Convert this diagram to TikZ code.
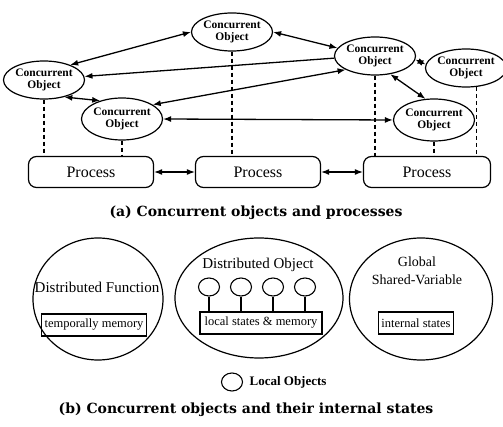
\documentclass[tikz,border=0pt]{standalone}
\usepackage{fontspec}
\setmainfont{Liberation Serif}
\newfontfamily\capfont{DejaVu Serif}
\usetikzlibrary{arrows.meta,positioning,shapes.geometric}
\tikzset{>={Latex[length=8pt,width=6pt]},
  cobj/.style={ellipse,draw,line width=1.2pt,inner sep=0pt,minimum width=66pt,minimum height=38pt,align=center,font=\bfseries\fontsize{11.5}{11.5}\selectfont},
  proc/.style={draw,line width=1.2pt,rounded corners=8pt,minimum width=125pt,minimum height=31pt,font=\fontsize{16}{17}\selectfont},
  arr/.style={<->,line width=1.3pt},
  oneway/.style={->,line width=1.3pt},
  vlink/.style={dash pattern=on 4pt off 3pt,line width=1.1pt},
  region/.style={ellipse,draw,line width=1.2pt,inner sep=0pt},
  membox/.style={draw,line width=1.1pt,inner sep=3pt,minimum height=22pt,font=\fontsize{12.5}{13}\selectfont},
  title/.style={align=center,font=\fontsize{15}{18}\selectfont},
  lobj/.style={ellipse,draw,line width=1.1pt,inner sep=0pt,minimum width=21pt,minimum height=18pt},
  caption/.style={font=\capfont\bfseries\fontsize{14}{16}\selectfont}}
\begin{document}
\begin{tikzpicture}[x=1pt,y=-1pt]
\useasboundingbox (0,0) rectangle (503,427);
% (a) concurrent objects
\node[cobj] (objTop) at (232,32) {Concurrent\\Object};
\node[cobj] (objLeft) at (44,80) {Concurrent\\Object};
\node[cobj,minimum width=62pt,minimum height=42pt] (objMid) at (122,119) {Concurrent\\Object};
\node[cobj] (objRight) at (375,56) {Concurrent\\Object};
\node[cobj,minimum width=62pt] (objFar) at (466,68) {Concurrent\\Object};
\node[cobj,minimum width=64pt,minimum height=42pt] (objLow) at (434,120) {Concurrent\\Object};
% processes
\node[proc] (procL) at (91,172) {Process};
\node[proc] (procM) at (258,172) {Process};
\node[proc,minimum width=127pt] (procR) at (427,172) {Process};
% messages
\draw[arr] (objTop.west) -- (objLeft.30);
\draw[arr] (objTop.east) -- (objRight.168);
\draw[oneway] (objRight.183) -- (objLeft.5);
\draw[arr] (objRight.205) -- (objMid.25);
\draw[arr] (objMid.east) -- (objLow.west);
\draw[arr] (objLeft.-40) -- (objMid.140);
\draw[arr] (objRight.-5) -- (objFar.175);
\draw[arr] (objRight.-50) -- (objLow.112);
\draw[arr] (procL) -- (procM);
\draw[arr] (procM) -- (procR);
% object to process
\draw[vlink] (objLeft.south) -- (objLeft.south |- procL.north);
\draw[vlink] (objMid.south) -- (objMid.south |- procL.north);
\draw[vlink] (objTop.south) -- (objTop.south |- procM.north);
\draw[vlink] (objRight.south) -- (objRight.south |- procR.north);
\draw[vlink] (objLow.south) -- (objLow.south |- procR.north);
\draw[vlink] (objFar.-60) -- (objFar.-60 |- procR.north);
\node[caption] (capA) at (256,213) {(a) Concurrent objects and processes};
% (b) internal states
\node[region,minimum width=130pt,minimum height=122pt] (funcReg) at (98,299) {};
\node[title] (funcTitle) at (97,287) {Distributed Function};
\node[membox] (funcMem) at (94,325) {temporally memory};
\node[region,minimum width=168pt,minimum height=120pt] (objReg) at (259,298) {};
\node[title] (objTitle) at (258,265) {Distributed Object};
\node[membox,minimum width=122pt] (objMem) at (261,323) {local states \& memory};
\foreach \i/\x in {1/209,2/241,3/273,4/305}{
  \node[lobj] (lo\i) at (\x,287) {};
  \draw[line width=1.1pt] (lo\i.south) -- (lo\i.south |- objMem.north);
}
\node[region,minimum width=143pt,minimum height=122pt] (varReg) at (421,299) {};
\node[title,font=\fontsize{14}{18}\selectfont] (varTitle) at (417,271) {Global\\Shared-Variable};
\node[membox,minimum width=75pt] (varMem) at (416,323) {internal states};
\node[lobj] (legCirc) at (232,382) {};
\node[right=3pt of legCirc,font=\bfseries\fontsize{13}{14}\selectfont] (legText) {Local Objects};
\node[caption] (capB) at (246,410) {(b) Concurrent objects and their internal states};
\end{tikzpicture}
\end{document}
